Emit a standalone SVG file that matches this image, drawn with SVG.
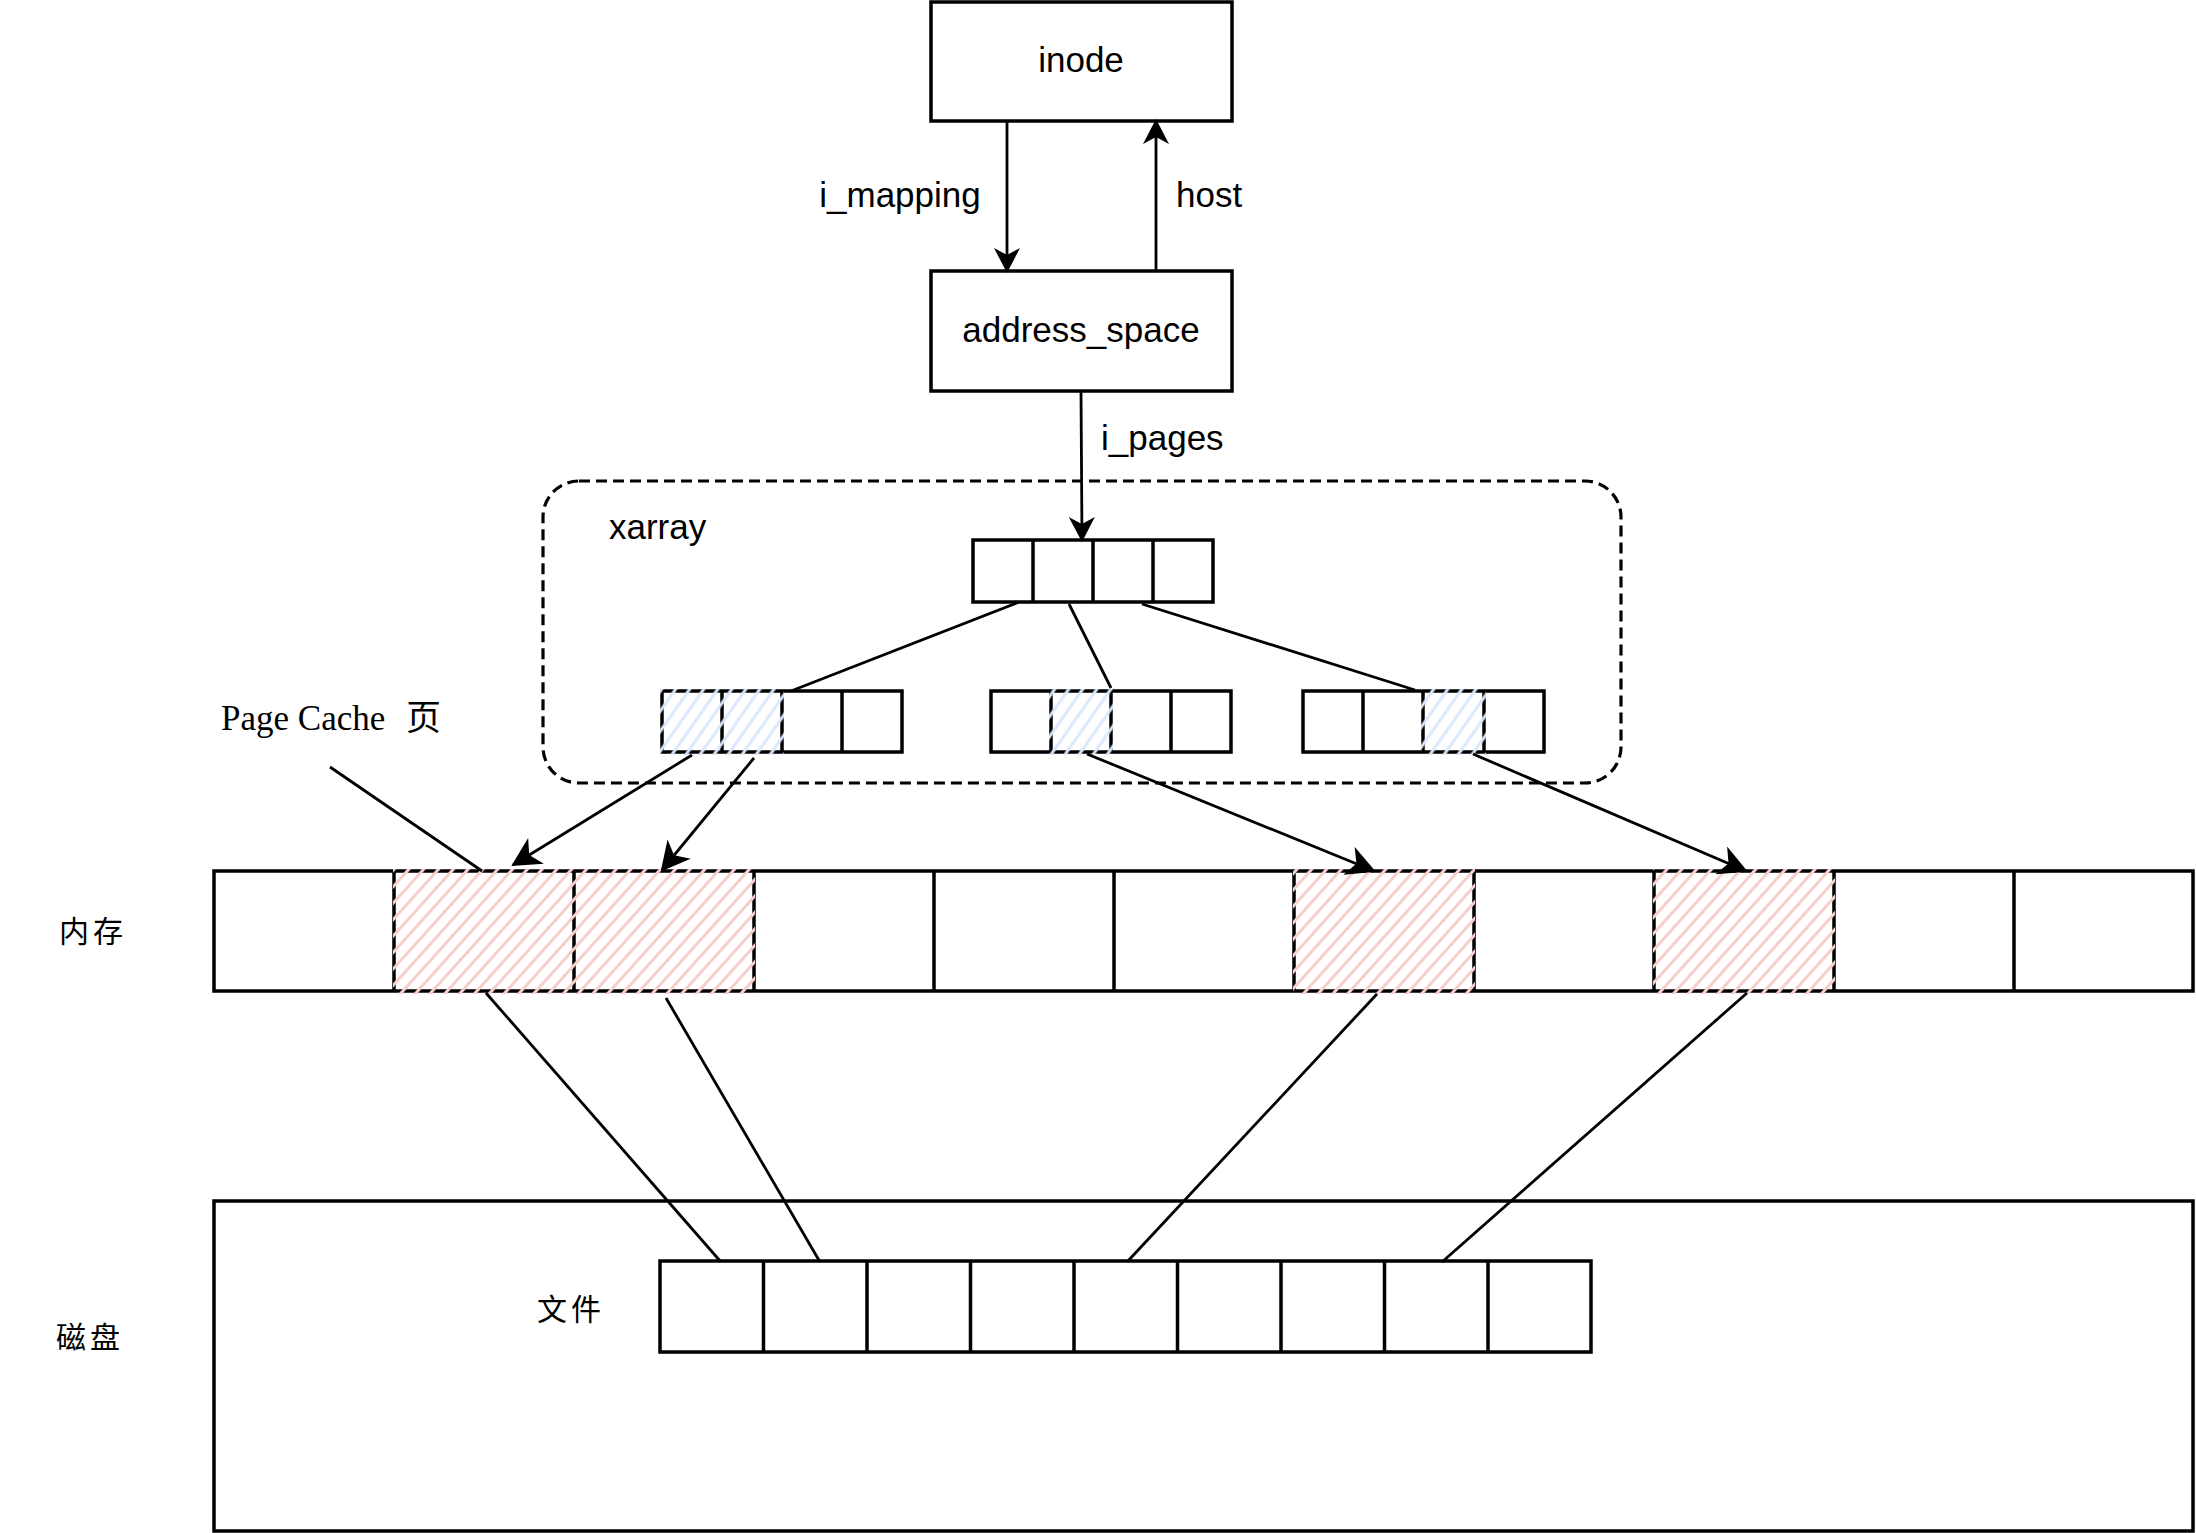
<svg xmlns="http://www.w3.org/2000/svg" width="2196" height="1533" viewBox="0 0 2196 1533">
  <defs>
    <style>
      .box { fill: #ffffff; stroke: #000000; stroke-width: 3.5; }
      .cell { fill: none; stroke: #000000; stroke-width: 3.5; }
      .label { font-family: "Liberation Sans", Arial, sans-serif; font-size: 35px; fill: #000000; }
      .cjk { font-family: "Noto Sans CJK SC", sans-serif; font-size: 30px; fill: #000000; letter-spacing: 4px; }
      .serif { font-family: "Liberation Serif", "Noto Sans CJK SC", serif; font-size: 35px; fill: #000000; }
      .edge { fill: none; stroke: #000000; stroke-width: 2.8; }
      .arrow { fill: none; stroke: #000000; stroke-width: 2.8; marker-end: url(#head); }
      .arrow-lg { fill: none; stroke: #000000; stroke-width: 2.8; marker-end: url(#headLarge); }
      .dash { fill: none; stroke: #000000; stroke-width: 3.2; stroke-dasharray: 11 6; }
      .hatch-red { fill: url(#hatchRed); stroke: none; }
      .hatch-blue { fill: url(#hatchBlue); stroke: none; }
    </style>
    <marker id="head" markerUnits="userSpaceOnUse" viewBox="0 0 26 26" refX="24" refY="13" markerWidth="26" markerHeight="26" orient="auto">
      <path d="M26,13 L1,0 L8,13 L1,26 Z" fill="#000000"/>
    </marker>
    <marker id="headLarge" markerUnits="userSpaceOnUse" viewBox="0 0 30 30" refX="28" refY="15" markerWidth="30" markerHeight="30" orient="auto">
      <path d="M30,15 L1,0 L9,15 L1,30 Z" fill="#000000"/>
    </marker>
    <pattern id="hatchRed" patternUnits="userSpaceOnUse" width="11" height="11" patternTransform="rotate(-48)">
      <line x1="0" y1="5.5" x2="11" y2="5.5" stroke="#f8cecc" stroke-width="3"/>
    </pattern>
    <pattern id="hatchBlue" patternUnits="userSpaceOnUse" width="11.5" height="11.5" patternTransform="rotate(-55)">
      <line x1="0" y1="5.75" x2="11.5" y2="5.75" stroke="#dae8fc" stroke-width="3"/>
    </pattern>
  </defs>

  <rect width="2196" height="1533" fill="#ffffff"/>

  <!-- inode -->
  <g id="inode">
    <rect class="box" x="931" y="2" width="301" height="119"/>
    <text class="label" x="1081" y="72" text-anchor="middle">inode</text>
  </g>

  <!-- address_space -->
  <g id="address_space">
    <rect class="box" x="931" y="271" width="301" height="120"/>
    <text class="label" x="1081" y="342" text-anchor="middle">address_space</text>
  </g>

  <!-- xarray container -->
  <g id="xarray">
    <rect class="dash" x="543" y="481" width="1078" height="302" rx="36" ry="36"/>
    <text class="label" x="609" y="539">xarray</text>
  </g>

  <!-- xarray root node -->
  <g id="xa-root">
    <rect class="box" x="973" y="540" width="240" height="62"/>
    <path class="cell" d="M1033,540 V602 M1093,540 V602 M1153,540 V602"/>
  </g>

  <!-- xarray leaf nodes -->
  <g id="xa-leaf-1">
    <rect class="box" x="662" y="691" width="240" height="61"/>
    <path class="cell" d="M722,691 V752 M782,691 V752 M842,691 V752"/>
    <rect class="hatch-blue" x="660" y="689" width="124" height="66"/>
  </g>
  <g id="xa-leaf-2">
    <rect class="box" x="991" y="691" width="240" height="61"/>
    <path class="cell" d="M1051,691 V752 M1111,691 V752 M1171,691 V752"/>
    <rect class="hatch-blue" x="1049" y="689" width="64" height="66"/>
  </g>
  <g id="xa-leaf-3">
    <rect class="box" x="1303" y="691" width="241" height="61"/>
    <path class="cell" d="M1363,691 V752 M1423,691 V752 M1484,691 V752"/>
    <rect class="hatch-blue" x="1421" y="689" width="65" height="66"/>
  </g>

  <!-- memory strip -->
  <g id="memory">
    <text class="cjk" x="93" y="929" text-anchor="middle" dominant-baseline="central">内存</text>
    <rect class="box" x="214" y="871" width="1979" height="120"/>
    <path class="cell" d="M394,871 V991 M574,871 V991 M754,871 V991 M934,871 V991 M1114,871 V991 M1294,871 V991 M1474,871 V991 M1654,871 V991 M1834,871 V991 M2014,871 V991"/>
    <rect class="hatch-red" x="393" y="869" width="362" height="125"/>
    <rect class="hatch-red" x="1293" y="869" width="182" height="125"/>
    <rect class="hatch-red" x="1653" y="869" width="182" height="125"/>
  </g>

  <!-- page cache annotation -->
  <g id="page-cache-label">
    <text class="serif" x="221" y="730">Page Cache<tspan x="406">页</tspan></text>
  </g>

  <!-- disk -->
  <g id="disk">
    <text class="cjk" x="90" y="1335" text-anchor="middle" dominant-baseline="central">磁盘</text>
    <rect class="box" x="214" y="1201" width="1979" height="330"/>
  </g>

  <!-- file blocks on disk -->
  <g id="file">
    <text class="cjk" x="571" y="1307" text-anchor="middle" dominant-baseline="central">文件</text>
    <rect class="box" x="660" y="1261" width="931" height="91"/>
    <path class="cell" d="M763.5,1261 V1352 M867,1261 V1352 M970.5,1261 V1352 M1074,1261 V1352 M1177.5,1261 V1352 M1281,1261 V1352 M1384.5,1261 V1352 M1488,1261 V1352"/>
  </g>

  <!-- connectors -->
  <g id="connectors">
    <line class="arrow" x1="1007" y1="121" x2="1007" y2="271"/>
    <line class="arrow" x1="1156" y1="271" x2="1156" y2="121"/>
    <line class="arrow" x1="1081" y1="391" x2="1082" y2="540"/>
    <text class="label" x="900" y="207" text-anchor="middle">i_mapping</text>
    <text class="label" x="1176" y="207">host</text>
    <text class="label" x="1101" y="450">i_pages</text>

    <line class="edge" x1="1019" y1="602" x2="791" y2="691"/>
    <line class="edge" x1="1069" y1="604" x2="1111" y2="688"/>
    <line class="edge" x1="1142" y1="604" x2="1415" y2="690"/>

    <line class="arrow-lg" x1="692" y1="755" x2="513" y2="865"/>
    <line class="arrow-lg" x1="754" y1="758" x2="662" y2="870"/>
    <line class="arrow-lg" x1="1087" y1="754" x2="1374" y2="871"/>
    <line class="arrow-lg" x1="1473" y1="754" x2="1746" y2="871"/>

    <line class="edge" x1="330" y1="767" x2="482" y2="871"/>

    <line class="edge" x1="486" y1="993" x2="721" y2="1262"/>
    <line class="edge" x1="666" y1="998" x2="820" y2="1262"/>
    <line class="edge" x1="1377" y1="994" x2="1127" y2="1262"/>
    <line class="edge" x1="1747" y1="993" x2="1442" y2="1262"/>
  </g>
</svg>
